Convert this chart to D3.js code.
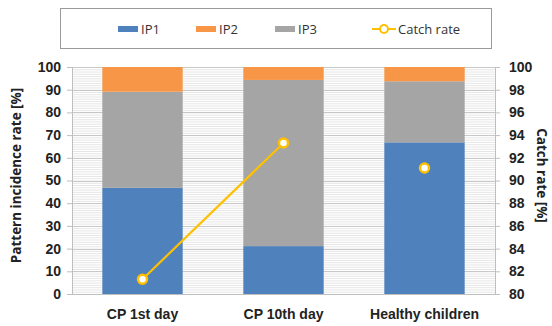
<!DOCTYPE html>
<html>
<head>
<meta charset="utf-8">
<script src="https://cdn.jsdelivr.net/npm/d3@7"></script>
<style>
  html, body { margin: 0; padding: 0; background: #fff; }
  svg { display: block; font-family: "Open Sans", "Noto Sans", sans-serif; }
</style>
</head>
<body>
<svg id="chart" width="552" height="326"></svg>
<script>
// Groups on the x axis
const categories = ["CP 1st day", "CP 10th day", "Healthy children"];
// Pattern incidence rates [%], stacked bottom to top
const ip1 = [46.8, 21.1, 66.8];
const ip2 = [10.9, 5.7, 6.3];
const ip3 = [42.3, 73.2, 26.9];
// Catch rate [%] on the right axis
const catchRate = [81.3, 93.3, 91.1];
// Only the two CP groups are joined by the line
const catchLinked = [true, true, false];
// Tick values
const leftTicks = [0, 10, 20, 30, 40, 50, 60, 70, 80, 90, 100];
const rightTicks = [80, 82, 84, 86, 88, 90, 92, 94, 96, 98, 100];

const colors = { IP1: "#4F81BD", IP2: "#F79646", IP3: "#A5A5A5", line: "#FFC000" };

const svg = d3.select("#chart");
const plot = { left: 72, right: 495, top: 67, bottom: 294 };

const x = d3.scaleBand().domain(categories).range([plot.left, plot.right]).paddingInner(0.43).paddingOuter(0.215);
const yL = d3.scaleLinear().domain([0, 100]).range([plot.bottom, plot.top]);
const yR = d3.scaleLinear().domain([80, 100]).range([plot.bottom, plot.top]);

// Minor gridlines every 1 unit on the left scale
const g = svg.append("g");
g.selectAll("line.minor").data(d3.range(1, 100)).join("line")
  .attr("x1", plot.left).attr("x2", plot.right)
  .attr("y1", d => yL(d) + 0.5).attr("y2", d => yL(d) + 0.5)
  .attr("stroke", "#e6e6e6").attr("stroke-width", 1);
// Major gridlines
g.selectAll("line.major").data(leftTicks).join("line")
  .attr("x1", plot.left).attr("x2", plot.right)
  .attr("y1", d => Math.round(yL(d)) + 0.5).attr("y2", d => Math.round(yL(d)) + 0.5)
  .attr("stroke", "#c8c8c8").attr("stroke-width", 1);

// Stacked bars
const rows = categories.map((c, i) => ({ cat: c, IP1: ip1[i], IP2: ip2[i], IP3: ip3[i] }));
const stack = d3.stack().keys(["IP1", "IP3", "IP2"])(rows);
svg.append("g").selectAll("g").data(stack).join("g")
  .attr("fill", d => colors[d.key])
  .selectAll("rect").data(d => d).join("rect")
  .attr("x", d => x(d.data.cat))
  .attr("width", x.bandwidth())
  .attr("y", d => yL(d[1]))
  .attr("height", d => yL(d[0]) - yL(d[1]));

// Axes
const axL = svg.append("g").attr("transform", `translate(${plot.left},0)`)
  .call(d3.axisLeft(yL).tickValues(leftTicks).tickSize(5).tickPadding(6));
const axR = svg.append("g").attr("transform", `translate(${plot.right},0)`)
  .call(d3.axisRight(yR).tickValues(rightTicks).tickSize(5).tickPadding(9));
const axB = svg.append("g").attr("transform", `translate(0,${plot.bottom})`)
  .call(d3.axisBottom(x).tickSize(0).tickPadding(15));
axB.select(".domain").attr("d", `M${plot.left},0.5H${plot.right}`);
[axL, axR, axB].forEach(a => {
  a.selectAll(".domain, .tick line").attr("stroke", "#bfbfbf");
  a.selectAll("text").attr("fill", "#222").style("font-size", "14px").style("font-weight", "bold");
});

// Catch rate line and markers
const pts = categories.map((c, i) => ({ x: x(c) + x.bandwidth() / 2, y: yR(catchRate[i]), linked: catchLinked[i] }));
svg.append("path")
  .datum(pts.filter(p => p.linked))
  .attr("d", d3.line().x(p => p.x).y(p => p.y))
  .attr("fill", "none").attr("stroke", colors.line).attr("stroke-width", 2.2);
svg.append("g").selectAll("circle").data(pts).join("circle")
  .attr("cx", p => p.x).attr("cy", p => p.y).attr("r", 4.5)
  .attr("fill", "#fff").attr("stroke", colors.line).attr("stroke-width", 2.5);

// Axis titles
svg.append("text")
  .attr("transform", `translate(21,${(plot.top + plot.bottom) / 2 - 5}) rotate(-90)`)
  .attr("text-anchor", "middle").attr("fill", "#222")
  .style("font-size", "13.5px").style("font-weight", "bold")
  .text("Pattern incidence rate [%]");
svg.append("text")
  .attr("transform", `translate(537,${(plot.top + plot.bottom) / 2 - 5}) rotate(90)`)
  .attr("text-anchor", "middle").attr("fill", "#222")
  .style("font-size", "13.5px").style("font-weight", "bold")
  .text("Catch rate [%]");

// Legend
const legend = svg.append("g");
legend.append("rect").attr("x", 60.5).attr("y", 8.5).attr("width", 431).attr("height", 40)
  .attr("fill", "#fff").attr("stroke", "#9a9a9a").attr("stroke-width", 1);
const legendItems = [
  { key: "IP1", x: 118 },
  { key: "IP2", x: 196 },
  { key: "IP3", x: 275 }
];
legendItems.forEach(it => {
  legend.append("rect").attr("x", it.x).attr("y", 26).attr("width", 20).attr("height", 6).attr("fill", colors[it.key]);
  legend.append("text").attr("x", it.x + 23).attr("y", 33.5).attr("fill", "#333")
    .style("font-size", "13px").text(it.key);
});
legend.append("line").attr("x1", 372).attr("x2", 396).attr("y1", 29).attr("y2", 29)
  .attr("stroke", colors.line).attr("stroke-width", 2);
legend.append("circle").attr("cx", 384).attr("cy", 29).attr("r", 4)
  .attr("fill", "#fff").attr("stroke", colors.line).attr("stroke-width", 2);
legend.append("text").attr("x", 398).attr("y", 33.5).attr("fill", "#333")
  .style("font-size", "13px").text("Catch rate");
</script>
</body>
</html>
